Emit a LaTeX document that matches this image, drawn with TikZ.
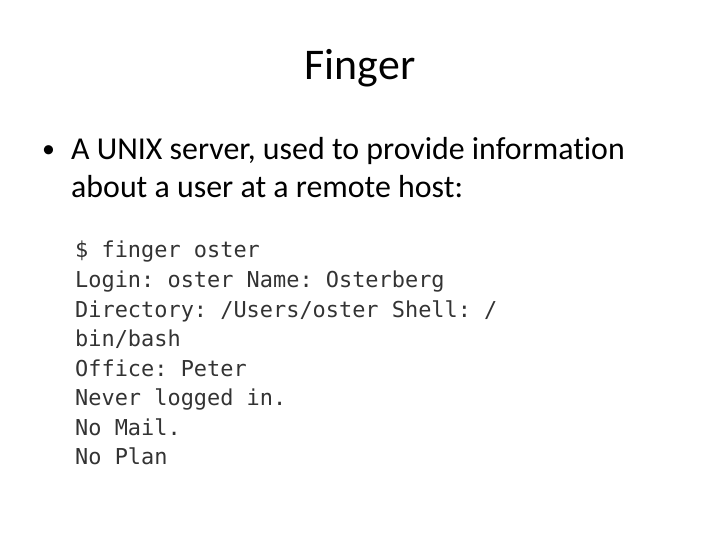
\documentclass[tikz,border=0pt]{standalone}
\usepackage{fontspec}
\setmainfont{Carlito}[Ligatures=NoCommon]
\setmonofont{DejaVu Sans Mono}
\begin{document}
\begin{tikzpicture}[x=1bp, y=-1bp]
\tikzstyle{slidetext}=[anchor=base west, inner sep=0pt, font=\fontsize{32}{38}\selectfont]
\tikzstyle{codeline}=[anchor=base west, inner sep=0pt, text=black!80, font=\ttfamily\fontsize{22}{26}\selectfont]
\useasboundingbox (0,0) rectangle (720,540);

\node[anchor=base, inner sep=0pt, font=\fontsize{44}{52}\selectfont] (title) at (360,80) {Finger};
\node[slidetext, font=\fontsize{26}{30}\selectfont] (bullet) at (42,158) {•};
\node[slidetext] (line1) at (71,160) {A UNIX server, used to provide information};
\node[slidetext] (line2) at (71,198) {about a user at a remote host:};

\node[codeline] (code0) at (75,258) {\$ finger oster};
\node[codeline] (code1) at (75,287.5) {Login: oster Name: Osterberg};
\node[codeline] (code2) at (75,317) {Directory: /Users/oster Shell: /};
\node[codeline] (code3) at (75,346.5) {bin/bash};
\node[codeline] (code4) at (75,376) {Office: Peter};
\node[codeline] (code5) at (75,405.5) {Never logged in.};
\node[codeline] (code6) at (75,435) {No Mail.};
\node[codeline] (code7) at (75,464.5) {No Plan};
\end{tikzpicture}
\end{document}
